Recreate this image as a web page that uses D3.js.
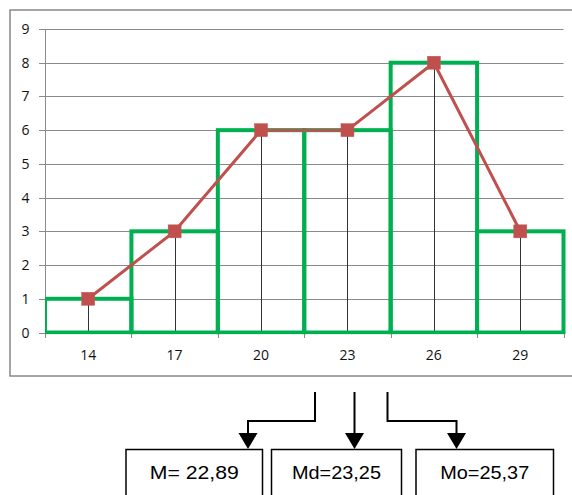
<!DOCTYPE html>
<html>
<head>
<meta charset="utf-8">
<script src="https://cdn.jsdelivr.net/npm/d3@7"></script>
<style>
html,body{margin:0;padding:0;background:#fff;}
svg{display:block;}
</style>
</head>
<body>
<script>
// ---- data ----
const categories = [14, 17, 20, 23, 26, 29];
const frequencies = [1, 3, 6, 6, 8, 3];
const yTickValues = [0, 1, 2, 3, 4, 5, 6, 7, 8, 9];
const statLabels = ["M= 22,89", "Md=23,25", "Mo=25,37"];

const W = 572, H = 495;
const svg = d3.select("body").append("svg").attr("width", W).attr("height", H);

// chart frame
svg.append("rect").attr("x", 10).attr("y", 10).attr("width", 580).attr("height", 366)
  .attr("fill", "#fff").attr("stroke", "#888").attr("stroke-width", 1.5);

const x = d3.scaleBand().domain(categories).range([45, 563.5]).padding(0);
const y = d3.scaleLinear().domain([0, 9]).range([332.5, 29]);

// gridlines + y tick marks
svg.append("g").selectAll("line").data(yTickValues).join("line")
  .attr("x1", 39).attr("x2", 563.5)
  .attr("y1", d => Math.round(y(d)) + 0.5).attr("y2", d => Math.round(y(d)) + 0.5)
  .attr("stroke", "#8a8a8a").attr("stroke-width", 1);

// y axis line
svg.append("line").attr("x1", 45.5).attr("x2", 45.5).attr("y1", y(9)).attr("y2", 338)
  .attr("stroke", "#8a8a8a").attr("stroke-width", 1);

// x tick marks at bin boundaries
const bounds = categories.map(c => x(c)).concat([x(categories[categories.length - 1]) + x.bandwidth()]);
svg.append("g").selectAll("line").data(bounds).join("line")
  .attr("x1", d => Math.round(d) + 0.5).attr("x2", d => Math.round(d) + 0.5)
  .attr("y1", 332).attr("y2", 338)
  .attr("stroke", "#8a8a8a").attr("stroke-width", 1);

// y labels
svg.append("g").selectAll("text").data(yTickValues).join("text")
  .attr("x", 29.5).attr("y", d => y(d)).attr("dy", "0.36em")
  .attr("text-anchor", "end")
  .attr("font-family", "'Open Sans', Lato, sans-serif").attr("font-size", 14)
  .attr("fill", "#111").text(d => d);

// x labels
svg.append("g").selectAll("text").data(categories).join("text")
  .attr("x", d => x(d) + x.bandwidth() / 2).attr("y", 355).attr("dy", "0.36em")
  .attr("text-anchor", "middle")
  .attr("font-family", "'Open Sans', Lato, sans-serif").attr("font-size", 14)
  .attr("fill", "#111").text(d => d);

// drop lines
const pts = categories.map((c, i) => ({ c, v: frequencies[i] }));
svg.append("g").selectAll("line").data(pts).join("line")
  .attr("x1", d => Math.round(x(d.c) + x.bandwidth() / 2) + 0.5)
  .attr("x2", d => Math.round(x(d.c) + x.bandwidth() / 2) + 0.5)
  .attr("y1", d => y(d.v)).attr("y2", y(0))
  .attr("stroke", "#333").attr("stroke-width", 1);

// clip for histogram bars
svg.append("clipPath").attr("id", "pc").append("rect")
  .attr("x", 45).attr("y", 0).attr("width", 527).attr("height", 334.2);

svg.append("g").attr("clip-path", "url(#pc)").selectAll("rect").data(pts).join("rect")
  .attr("x", d => x(d.c)).attr("y", d => y(d.v))
  .attr("width", x.bandwidth()).attr("height", d => y(0) - y(d.v))
  .attr("fill", "none").attr("stroke", "#00b050").attr("stroke-width", 4);

// polygon line
const line = d3.line().x(d => x(d.c) + x.bandwidth() / 2).y(d => y(d.v));
svg.append("path").datum(pts).attr("d", line)
  .attr("fill", "none").attr("stroke", "#c0504d").attr("stroke-width", 3)
  .attr("stroke-linejoin", "round");

// markers
svg.append("g").selectAll("rect").data(pts).join("rect")
  .attr("x", d => x(d.c) + x.bandwidth() / 2 - 6.5).attr("y", d => y(d.v) - 6.5)
  .attr("width", 13).attr("height", 13)
  .attr("fill", "#c0504d").attr("stroke", "#c25a57").attr("stroke-width", 0.5);

// ---- annotation arrows and boxes ----
const arrowPaths = [
  [[315, 392], [315, 421], [248, 421], [248, 434]],
  [[354.5, 392], [354.5, 434]],
  [[387.5, 392], [387.5, 421], [456.5, 421], [456.5, 434]]
];
svg.append("g").selectAll("path").data(arrowPaths).join("path")
  .attr("d", d => d3.line()(d))
  .attr("fill", "none").attr("stroke", "#000").attr("stroke-width", 2)
  .attr("stroke-linejoin", "miter");
svg.append("g").selectAll("path").data(arrowPaths).join("path")
  .attr("d", d => {
    const p = d[d.length - 1];
    return `M${p[0] - 9.5},${433} L${p[0] + 9.5},${433} L${p[0]},${449} Z`;
  })
  .attr("fill", "#000");

const boxes = [[126, 262.5], [271.5, 401.5], [416, 553.5]];
svg.append("g").selectAll("rect").data(boxes).join("rect")
  .attr("x", d => d[0]).attr("y", 449.5).attr("width", d => d[1] - d[0]).attr("height", 70)
  .attr("fill", "#fff").attr("stroke", "#000").attr("stroke-width", 1.5);

svg.append("g").selectAll("text").data(statLabels).join("text")
  .attr("x", (d, i) => (boxes[i][0] + boxes[i][1]) / 2)
  .attr("y", 478.5)
  .attr("text-anchor", "middle")
  .attr("font-family", "'Liberation Sans', Arial, sans-serif").attr("font-size", 19)
  .attr("fill", "#000")
  .attr("textLength", 89).attr("lengthAdjust", "spacingAndGlyphs")
  .text(d => d);
</script>
</body>
</html>
